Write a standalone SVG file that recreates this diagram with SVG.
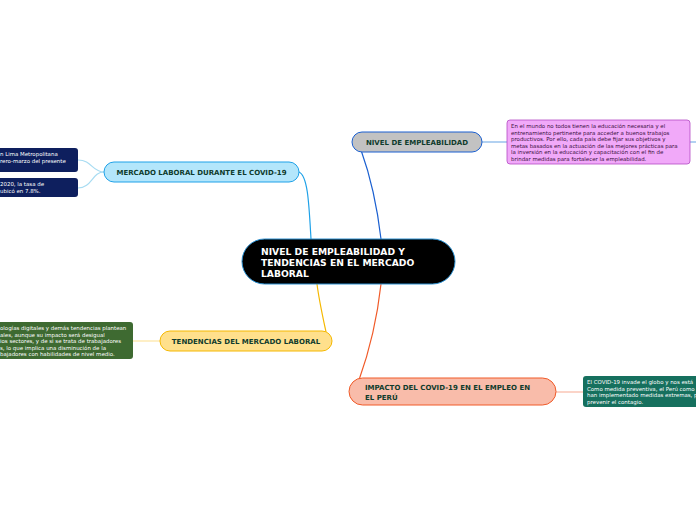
<svg xmlns="http://www.w3.org/2000/svg" width="696" height="520" viewBox="0 0 696 520">
<style>
text{font-family:"DejaVu Sans","Verdana",sans-serif}
.t{font-weight:bold;font-size:7px;fill:#0f3b2c}
.h{font-weight:bold;font-size:9.2px;fill:#ffffff}
.leaf{font-size:5.45px;fill:#ffffff}
.leafd{font-size:5.45px;fill:#3a1040}
.c{fill:none;stroke-width:1.2}
</style>
<rect width="696" height="520" fill="#ffffff"/>
<g id="connectors">
<path class="c" d="M299,172 C308,176 309,205 311,239" stroke="#1ea1e8"/>
<path class="c" d="M361,150 C370,175 377,205 381,239" stroke="#1a5fd0"/>
<path class="c" d="M317,284 C319,300 323,318 326,332" stroke="#f5b800"/>
<path class="c" d="M381,284 C377,320 368,355 359,380" stroke="#f05a28"/>
<path class="c" d="M104,172 C92,172 92,160 78,160" stroke="#a8dcf2" stroke-width="1"/>
<path class="c" d="M104,172 C92,172 92,188 78,188" stroke="#a8dcf2" stroke-width="1"/>
<path class="c" d="M482,142 L507,142" stroke="#7fb3e8" stroke-width="1"/>
<path class="c" d="M690,142 L696,142" stroke="#7fb3e8" stroke-width="1"/>
<path class="c" d="M160,341 L133,341" stroke="#fde4a0" stroke-width="1"/>
<path class="c" d="M556,392 L583,392" stroke="#f8b8a4" stroke-width="1"/>
</g>
<g id="central">
<rect x="242" y="239" width="213" height="45" rx="22.5" fill="#000000" stroke="#2a8fd0" stroke-width="1"/>
<text class="h" x="261" y="255">NIVEL DE EMPLEABILIDAD Y</text>
<text class="h" x="261" y="266">TENDENCIAS EN EL MERCADO</text>
<text class="h" x="261" y="277">LABORAL</text>
</g>
<g id="mercado">
<rect x="104" y="162" width="195" height="20" rx="10" fill="#b3e6fb" stroke="#1ea1e8" stroke-width="1"/>
<text class="t" x="201.5" y="175" text-anchor="middle">MERCADO LABORAL DURANTE EL COVID-19</text>
</g>
<g id="mercado-leaf1">
<rect x="-20" y="148" width="98" height="24" rx="3" fill="#0e1f5e"/>
<text class="leaf" x="0" y="156">n Lima Metropolitana</text>
<text class="leaf" x="0" y="163">rero-marzo del presente</text>
</g>
<g id="mercado-leaf2">
<rect x="-20" y="178" width="98" height="19" rx="3" fill="#0e1f5e"/>
<text class="leaf" x="0" y="186">2020, la tasa de</text>
<text class="leaf" x="0" y="193"> ubicó en 7.8%.</text>
</g>
<g id="nivel">
<rect x="352" y="132" width="130" height="20" rx="10" fill="#c2c2c2" stroke="#1a5fd0" stroke-width="1"/>
<text class="t" x="417" y="145" text-anchor="middle">NIVEL DE EMPLEABILIDAD</text>
</g>
<g id="nivel-leaf">
<rect x="507" y="120" width="183" height="44" rx="3" fill="#f1a9f9" stroke="#b44ac4" stroke-width="0.8"/>
<text class="leafd" x="511" y="128">En el mundo no todos tienen la educación necesaria y el</text>
<text class="leafd" x="511" y="134.5">entrenamiento pertinente para acceder a buenos trabajos</text>
<text class="leafd" x="511" y="141">productivos. Por ello, cada país debe fijar sus objetivos y</text>
<text class="leafd" x="511" y="147.5">metas basados en la actuación de las mejores prácticas para</text>
<text class="leafd" x="511" y="154">la inversión en la educación y capacitación con el fin de</text>
<text class="leafd" x="511" y="160.5">brindar medidas para fortalecer la empleabilidad.</text>
</g>
<g id="tendencias">
<rect x="160" y="331" width="172" height="20" rx="10" fill="#ffe08c" stroke="#f5b800" stroke-width="1"/>
<text class="t" x="246" y="344" text-anchor="middle">TENDENCIAS DEL MERCADO LABORAL</text>
</g>
<g id="tendencias-leaf">
<rect x="-20" y="322" width="153" height="37" rx="3" fill="#3e6a31"/>
<text class="leaf" x="0" y="330">ologías digitales y demás tendencias plantean</text>
<text class="leaf" x="0" y="336.5">ales, aunque su impacto será desigual</text>
<text class="leaf" x="0" y="343">ios sectores, y de si se trata de trabajadores</text>
<text class="leaf" x="0" y="349.5">s, lo que implica una disminución de la</text>
<text class="leaf" x="0" y="356">bajadores con habilidades de nivel medio.</text>
</g>
<g id="impacto">
<rect x="349" y="378" width="207" height="27" rx="13.5" fill="#f9bcaa" stroke="#f05a28" stroke-width="1"/>
<text class="t" x="365" y="389.5">IMPACTO DEL COVID-19 EN EL EMPLEO EN</text>
<text class="t" x="365" y="399.5">EL PERÚ</text>
</g>
<g id="impacto-leaf">
<rect x="583" y="376" width="130" height="31" rx="3" fill="#16705e"/>
<text class="leaf" x="587" y="384">El COVID-19 invade el globo y nos está</text>
<text class="leaf" x="587" y="390.5">Como medida preventiva, el Perú como</text>
<text class="leaf" x="587" y="397">han implementado medidas extremas, p</text>
<text class="leaf" x="587" y="403.5">prevenir el contagio.</text>
</g>
</svg>
